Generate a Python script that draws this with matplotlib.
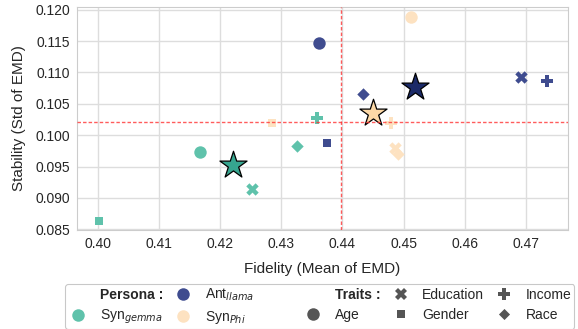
import numpy as np
import matplotlib.pyplot as plt
from matplotlib.lines import Line2D

plt.rcParams['font.family'] = ['Liberation Sans', 'DejaVu Sans']

# fidelity (mean of EMD) and stability (std of EMD) per persona, trait order below
traits = ['Age', 'Education', 'Gender', 'Income', 'Race']
gemma_fid = [0.4167, 0.4253, 0.4002, 0.4358, 0.4326]
gemma_std = [0.0973, 0.0914, 0.0863, 0.1027, 0.0983]
llama_fid = [0.4361, 0.4692, 0.4375, 0.4734, 0.4433]
llama_std = [0.1147, 0.1093, 0.0988, 0.1087, 0.1066]
phi_fid = [0.4512, 0.4486, 0.4285, 0.4480, 0.4491]
phi_std = [0.1189, 0.0980, 0.1020, 0.1019, 0.0970]

personas = [
    ('Syn$_{gemma}$', gemma_fid, gemma_std, '#5fc2ab', '#36a58f'),
    ('Ant$_{llama}$', llama_fid, llama_std, '#3f4c8f', '#1b2a68'),
    ('Syn$_{Phi}$', phi_fid, phi_std, '#fde2c1', '#fcd8a6'),
]
markers = {'Age': 'o', 'Education': 'X', 'Gender': (4, 0, 45), 'Income': 'P', 'Race': (4, 0, 0)}

fig = plt.figure(figsize=(5.78, 3.29), dpi=100)
ax = fig.add_axes([0.1332, 0.3009, 0.8495, 0.6778])

for name, fx, fy, col, star_col in personas:
    for t, x, y in zip(traits, fx, fy):
        ax.scatter(x, y, s=80, marker=markers[t], color=col, linewidths=0, zorder=3)
    # persona average
    ax.scatter(np.mean(fx), np.mean(fy), s=420, marker='*', color=star_col,
               edgecolors='black', linewidths=0.9, zorder=4)

# overall averages
all_x = np.concatenate([p[1] for p in personas])
all_y = np.concatenate([p[2] for p in personas])
ax.axvline(np.mean(all_x), color='#ff3333', lw=1, alpha=0.8, zorder=5, dashes=(2.5, 1.5))
ax.axhline(np.mean(all_y), color='#ff3333', lw=1, alpha=0.8, zorder=5, dashes=(2.5, 1.5))

ax.set_xlim(0.3966, 0.4769)
ax.set_ylim(0.08489, 0.12043)
ax.set_xticks(np.arange(0.40, 0.471, 0.01))
ax.set_yticks(np.arange(0.085, 0.1201, 0.005))
ax.set_xticklabels(['%.2f' % v for v in np.arange(0.40, 0.471, 0.01)])
ax.set_yticklabels(['%.3f' % v for v in np.arange(0.085, 0.1201, 0.005)])
ax.tick_params(labelsize=10, length=0, colors='#262626', pad=5)
ax.grid(True, color='#dddddd', lw=1)
ax.set_axisbelow(True)
for sp in ax.spines.values():
    sp.set_color('#cccccc')
ax.set_xlabel('Fidelity (Mean of EMD)', fontsize=11, color='#262626', labelpad=8)
ax.set_ylabel('Stability (Std of EMD)', fontsize=11, color='#262626', labelpad=7)

def mk(marker, color, ms=9):
    return Line2D([], [], ls='', marker=marker, color=color, markersize=ms, markeredgewidth=0)

blank = Line2D([], [], ls='', marker='')
gray = '#555555'
handles = [blank, mk('o', '#5fc2ab'),
           mk('o', '#3f4c8f'), mk('o', '#fde2c1'),
           blank, mk('o', gray),
           mk('X', gray), mk((4, 0, 45), gray, 8),
           mk('P', gray), mk((4, 0, 0), gray, 8)]
labels = ['Persona :', 'Syn$_{gemma}$',
          'Ant$_{llama}$' + ' ' * 11, 'Syn$_{Phi}$',
          'Traits :', 'Age',
          'Education', 'Gender',
          'Income', 'Race']
leg = fig.legend(handles, labels, ncol=5, loc='upper center', bbox_to_anchor=(0.553, 0.137),
                 borderaxespad=0, fontsize=10, handlelength=1.5, handletextpad=0.8,
                 columnspacing=0.7, labelspacing=0.45, borderpad=0.2, frameon=True,
                 edgecolor='#bbbbbb')
leg.get_frame().set_linewidth(0.8)
for txt in leg.get_texts():
    txt.set_color('#262626')
    if txt.get_text().endswith(':'):
        txt.set_fontweight('bold')

fig.savefig('out.png', dpi=100)
